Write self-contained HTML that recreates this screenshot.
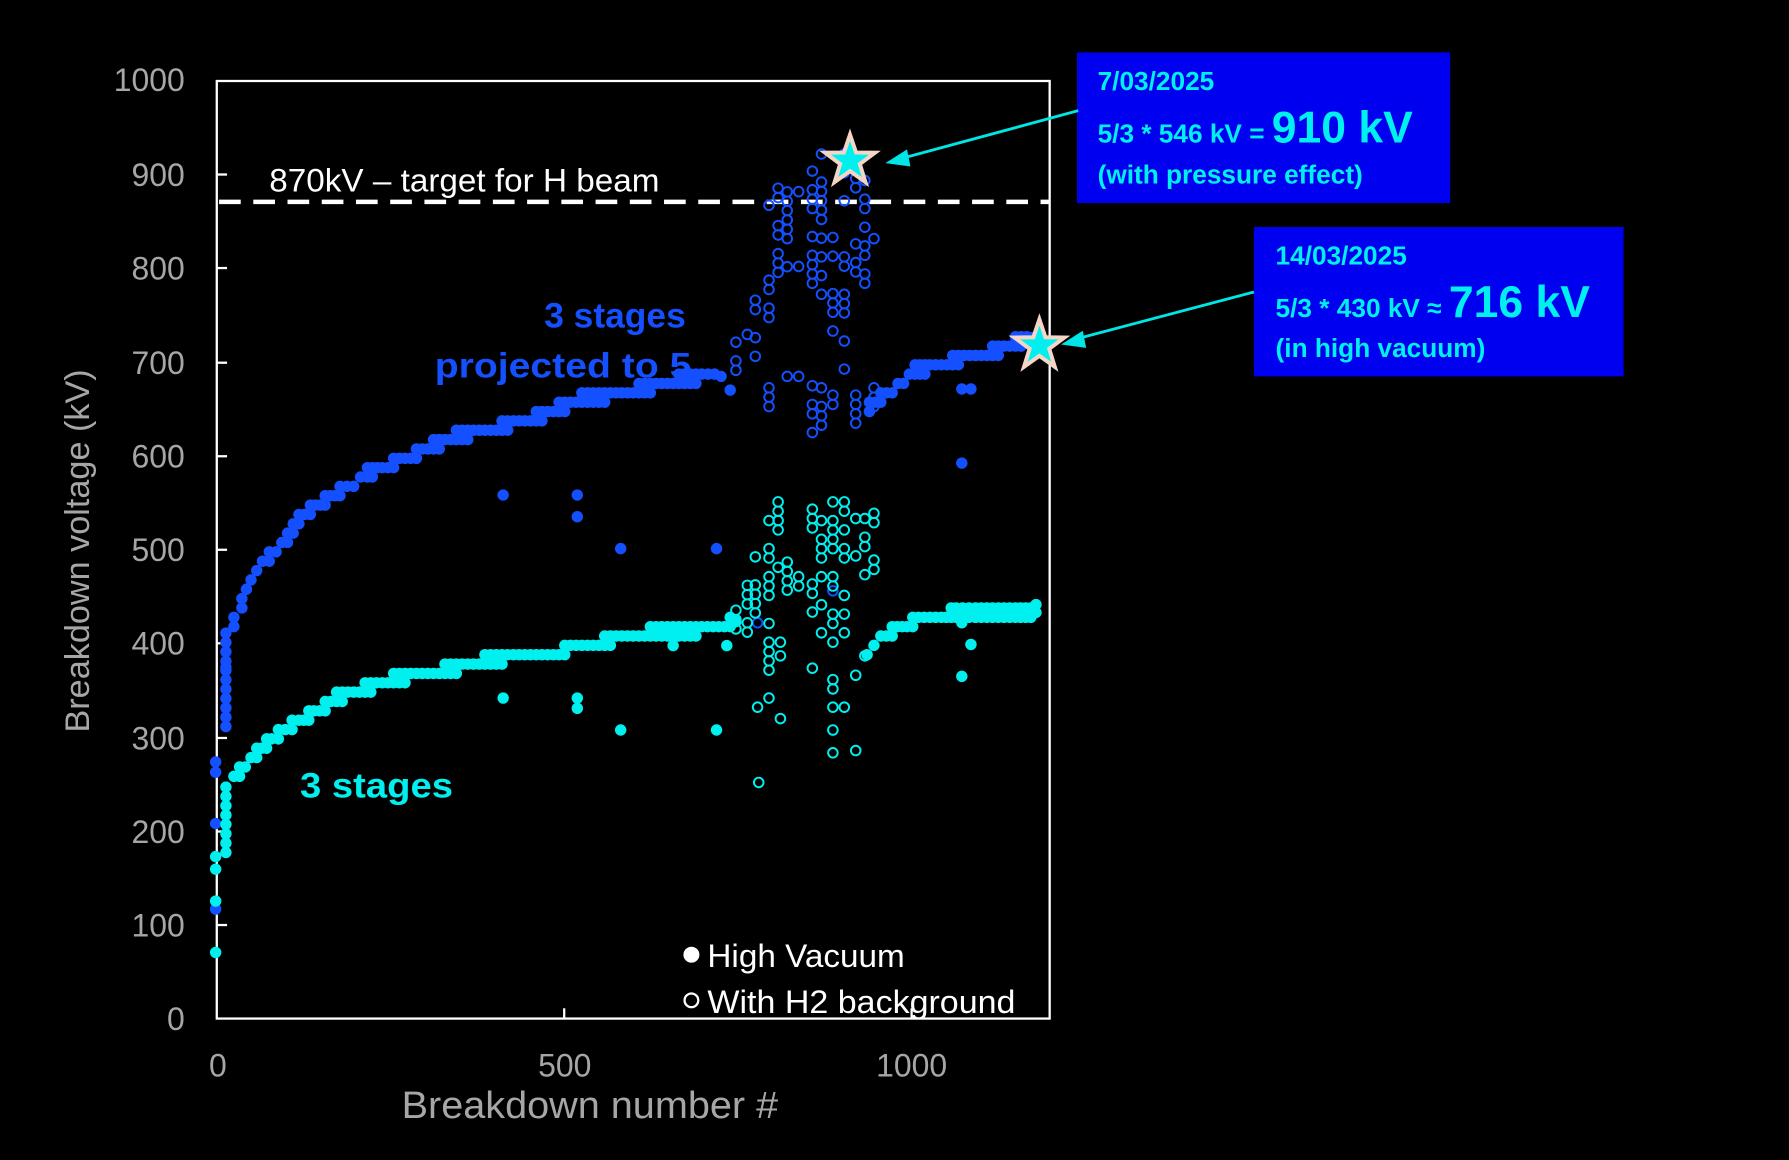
<!DOCTYPE html>
<html><head><meta charset="utf-8"><style>
html,body{margin:0;padding:0;background:#000;}
svg{display:block;}
text{font-family:"Liberation Sans",sans-serif;}
</style></head><body>
<svg id="s" width="1789" height="1160" viewBox="0 0 1568 1017" preserveAspectRatio="none" xmlns="http://www.w3.org/2000/svg">
<rect width="1568" height="1017" fill="#000"/>
<rect x="190" y="71" width="730" height="822" fill="none" stroke="#fff" stroke-width="2"/>
<g stroke="#fff" stroke-width="2">
<line x1="190" y1="811" x2="199" y2="811"/><line x1="190" y1="729" x2="199" y2="729"/><line x1="190" y1="647" x2="199" y2="647"/><line x1="190" y1="564" x2="199" y2="564"/><line x1="190" y1="482" x2="199" y2="482"/><line x1="190" y1="400" x2="199" y2="400"/><line x1="190" y1="318" x2="199" y2="318"/><line x1="190" y1="235" x2="199" y2="235"/><line x1="190" y1="153" x2="199" y2="153"/>
<line x1="494.5" y1="893" x2="494.5" y2="884"/><line x1="799" y1="893" x2="799" y2="884"/>
</g>
<g fill="#a6a6a6" font-size="28" text-anchor="end">
<text x="162" y="903">0</text><text x="162" y="821">100</text><text x="162" y="739">200</text><text x="162" y="657">300</text><text x="162" y="574">400</text><text x="162" y="492">500</text><text x="162" y="410">600</text><text x="162" y="328">700</text><text x="162" y="245">800</text><text x="162" y="163">900</text><text x="162" y="80">1000</text>
</g>
<g fill="#a6a6a6" font-size="28" text-anchor="middle">
<text x="191" y="944">0</text><text x="495" y="944">500</text><text x="799" y="944">1000</text>
</g>
<text x="352" y="980" fill="#a6a6a6" font-size="33" textLength="330" lengthAdjust="spacingAndGlyphs">Breakdown number #</text>
<text transform="translate(78,483) rotate(-90)" fill="#a6a6a6" font-size="30" text-anchor="middle">Breakdown voltage (kV)</text>
<line x1="192" y1="177" x2="920" y2="177" stroke="#fff" stroke-width="4" stroke-dasharray="19 11"/>
<text x="236" y="168" fill="#fff" font-size="28" textLength="342" lengthAdjust="spacingAndGlyphs">870kV – target for H beam</text>
<g id="pts"></g>
<text x="539" y="287" fill="#1450ff" font-size="31" font-weight="bold" text-anchor="middle">3 stages</text>
<text x="381" y="331" fill="#1450ff" font-size="31" font-weight="bold" textLength="225" lengthAdjust="spacingAndGlyphs">projected to 5</text>
<text x="263" y="699" fill="#00f0f0" font-size="31" font-weight="bold" textLength="134" lengthAdjust="spacingAndGlyphs">3 stages</text>
<circle cx="606" cy="837" r="7" fill="#fff"/>
<circle cx="606" cy="877" r="6" fill="none" stroke="#fff" stroke-width="2"/>
<text x="620" y="848" fill="#fff" font-size="28" textLength="173" lengthAdjust="spacingAndGlyphs">High Vacuum</text>
<text x="620" y="888" fill="#fff" font-size="28" textLength="270" lengthAdjust="spacingAndGlyphs">With H2 background</text>
<rect x="944" y="46" width="327" height="132" fill="#0000f0"/>
<rect x="1099" y="199" width="324" height="131" fill="#0000f0"/>
<g fill="#00f0f0" font-weight="bold">
<text x="962" y="79" font-size="23">7/03/2025</text>
<text x="962" y="125" font-size="23">5/3 * 546 kV = <tspan font-size="39">910 kV</tspan></text>
<text x="962" y="161" font-size="23">(with pressure effect)</text>
<text x="1118" y="232" font-size="23">14/03/2025</text>
<text x="1118" y="278" font-size="23">5/3 * 430 kV ≈ <tspan font-size="39">716 kV</tspan></text>
<text x="1118" y="313" font-size="23">(in high vacuum)</text>
</g>
<g stroke="#00e5e5" stroke-width="2.5" fill="#00e5e5">
<line x1="945" y1="97" x2="790" y2="139"/>
<polygon points="776,143 795,131 798,146" stroke="none"/>
<line x1="1099" y1="256" x2="944" y2="297"/>
<polygon points="930,302 949,290 952,305" stroke="none"/>
</g>
<g id="stars"></g>
</svg>
<script>
var NS="http://www.w3.org/2000/svg",g=document.getElementById("pts");
var seed=7;function rnd(){seed=(seed*16807)%2147483647;return seed/2147483647;}
function dot(x,y,c,hollow){var e=document.createElementNS(NS,"circle");e.setAttribute("cx",x);e.setAttribute("cy",y);
if(hollow){e.setAttribute("r",4.2);e.setAttribute("fill","none");e.setAttribute("stroke",c);e.setAttribute("stroke-width","1.7");}
else{e.setAttribute("r",5);e.setAttribute("fill",c);}g.appendChild(e);}
var B="#1450ff",C="#00f0f0";
function curve(pts,c){for(var i=0;i<pts.length-1;i++){var a=pts[i],b=pts[i+1];var n=Math.max(1,Math.round((b[0]-a[0])/5));
for(var k=0;k<n;k++){var t=k/n;var y=a[1]+(b[1]-a[1])*t;var yq=Math.round(y/8.2)*8.2;dot(a[0]+(b[0]-a[0])*t,yq,c,false);if(Math.abs(y-yq)>2.5)dot(a[0]+(b[0]-a[0])*t,yq+(y>yq?8.2:-8.2),c,false);}}
var l=pts[pts.length-1];dot(l[0],l[1],c,false);}
function col(x,y1,y2,c,h,p){for(var y=y1;y<=y2;y+=8.2){if(p===undefined||rnd()<p)dot(x,y,c,h);}}
col(198,555,645,B,false);dot(189,668,B);dot(189,677,B);dot(189,722,B);dot(189,797,B);dot(198,585,B);
col(198,690,752,C,false);dot(189,751,C);dot(189,762,C);dot(189,790,C);dot(189,835,C);
curve([[205,545],[212,528],[220,508],[230,493],[242,484],[252,470],[262,455],[272,447],[285,440],[298,430],[310,425],[322,415],[335,410],[350,404],[365,397],[380,391],[395,384],[410,380],[430,378],[450,370],[470,366],[490,358],[510,350],[530,348],[550,343],[570,340],[595,333],[615,330],[632,330]],B);
curve([[205,682],[215,672],[225,660],[238,650],[250,640],[262,632],[275,624],[290,615],[305,607],[320,603],[340,597],[360,592],[380,590],[400,585],[420,580],[440,577],[460,575],[480,575],[500,568],[520,565],[545,557],[570,555],[600,555],[630,548],[645,545]],C);
curve([[762,358],[772,348],[782,342],[792,335],[802,325],[815,322],[830,318],[845,313],[860,313],[875,307],[890,300],[905,296]],B);
curve([[760,575],[772,558],[782,553],[795,547],[810,542],[825,540],[838,537],[855,537],[870,537],[890,537],[908,537]],C);
dot(908,530,C);dot(640,342,B);dot(590,566,C);dot(637,566,C);
[[441,434],[506,434],[506,453],[544,481],[628,481],[843,341],[851,341],[843,406]].forEach(function(p){dot(p[0],p[1],B)});
[[441,612],[506,612],[506,621],[544,640],[628,640],[843,593],[851,565],[843,546]].forEach(function(p){dot(p[0],p[1],C)});
var P=0.5;
var hb=[[645,300,335],[655,285,335],[662,255,335],[674,180,285],[674,340,390],[682,165,260],[690,160,250],[700,168,245],[712,150,255],[712,330,405],[720,135,265],[720,340,390],[730,200,300],[730,330,362],[740,135,330],[750,140,250],[750,330,405],[758,150,250],[766,160,250],[766,340,360]];
hb.forEach(function(c){col(c[0],c[1],c[2],B,true,P)});
dot(720,135,B,true);dot(690,330,B,true);dot(700,330,B,true);dot(664,546,B,true);dot(730,518,B,true);
var hc=[[645,535,565],[655,505,560],[662,480,540],[674,440,590],[682,440,510],[690,460,520],[700,440,520],[712,430,600],[720,440,560],[730,440,670],[740,440,555],[750,430,510],[758,430,510],[766,450,505]];
hc.forEach(function(c){col(c[0],c[1],c[2],C,true,P)});
[[684,563],[684,575],[664,620],[674,612],[684,630],[750,592],[750,658],[665,686],[758,575],[730,620],[730,640],[730,660],[740,620]].forEach(function(p){dot(p[0],p[1],C,true)});
function star(cx,cy){var p=[];for(var i=0;i<10;i++){var r=i%2?9:23,a=-Math.PI/2+i*Math.PI/5;p.push((cx+r*Math.cos(a)).toFixed(1)+","+(cy+r*Math.sin(a)).toFixed(1));}
var e=document.createElementNS(NS,"polygon");e.setAttribute("points",p.join(" "));e.setAttribute("fill","#00f0f0");e.setAttribute("stroke","#f5d5c5");e.setAttribute("stroke-width","3.5");document.getElementById("stars").appendChild(e);}
star(745,141);star(911,303);
</script>
</body></html>
